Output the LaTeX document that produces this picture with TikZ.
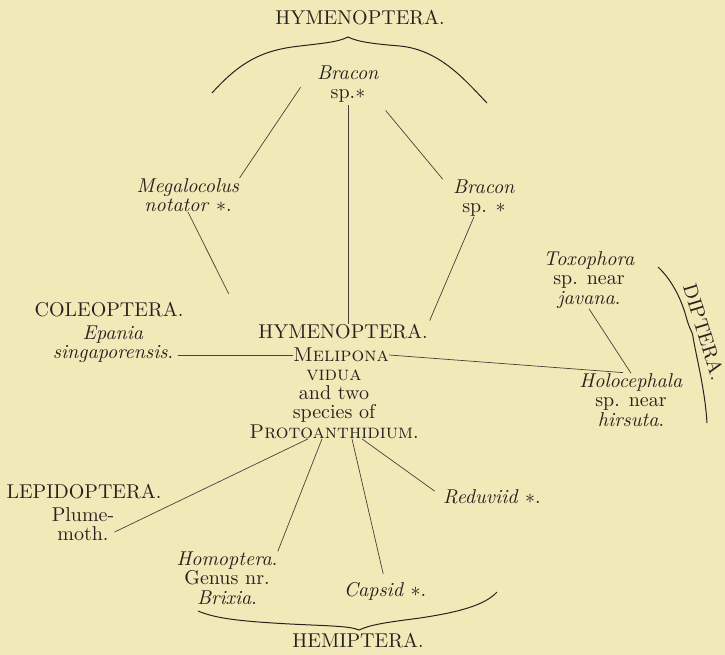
\documentclass[tikz,border=0pt]{standalone}
\usepackage{amsmath}
\usepackage{amssymb}
\definecolor{paper}{RGB}{242,233,185}
\definecolor{ink}{RGB}{38,34,30}
\definecolor{rule}{RGB}{70,65,58}

\begin{document}
\begin{tikzpicture}[x=0.5pt,y=0.5pt,line width=0.35pt,draw=rule]
\tikzstyle{every node}+=[inner sep=0pt,align=center,text=ink,font=\fontsize{10}{9.7}\selectfont]
\tikzstyle{brace}=[line width=0.5pt,draw=ink]
\fill [paper] (0,0) rectangle (725,-655);
\useasboundingbox (0,0) rectangle (725,-655);
% order labels
\node (hymt) at (360,-18) {HYMENOPTERA.};
\node (hemi) at (358,-641) {HEMIPTERA.};
\node (cole) at (109,-310) {COLEOPTERA.};
\node (lepi) at (84,-492) {LEPIDOPTERA.};
\node [rotate=-73] (dipt) at (704,-332) {DIPTERA.};
% species
\node (brac0) at (348,-84) {\textit{Bracon}\\sp.$\ast$};
\node (megal) at (188,-195) {\textit{Megalocolus}\\\textit{notator} $\ast$.};
\node (bracr) at (484,-198) {\textit{Bracon}\\sp. $\ast$};
\node (toxo) at (589,-280) {\textit{Toxophora}\\sp. near\\\textit{javana}.};
\node (holoc) at (631,-400) {\textit{Holocephala}\\sp. near\\\textit{hirsuta}.};
\node (epan) at (113,-344) {\textit{Epania}\\\textit{singaporensis}.};
\node (hymc) at (343,-332) {HYMENOPTERA.};
\node (melip) at (341,-355) {\textsc{Melipona}};
\node (prot) at (334,-404) {\textsc{vidua}\\and two\\species of\\\textsc{Protoanthidium}.};
\node (plume) at (83,-524) {Plume-\\moth.};
\node (homo) at (227,-578) {\textit{Homoptera}.\\Genus nr.\\\textit{Brixia}.};
\node (capsid) at (385,-591) {\textit{Capsid} $\ast$.};
\node (redu) at (492,-497) {\textit{Reduviid} $\ast$.};
% connectors
\draw [shorten <=2pt] ([xshift=-7pt]brac0.west) -- (megal.north east);
\draw [shorten <=1pt] (brac0.south) -- (brac0.south |- hymc.north);
\draw [shorten <=5pt] (brac0.south east) -- ([xshift=-5pt]bracr.north west);
\draw [shorten >=17pt] (megal.south) -- ([xshift=-7pt]hymc.north west);
\draw [shorten >=2pt] ([xshift=-5pt]bracr.south) -- (hymc.north east);
\draw [shorten <=2pt] (epan.east |- melip.west) -- (melip.west);
\draw [shorten >=4pt] (melip.east) -- (holoc.north);
\draw (toxo.south) -- (holoc.north);
\draw ([xshift=-13pt]prot.south) -- ([yshift=-4pt]plume.east);
\draw ([xshift=-6pt]prot.south) -- (homo.north east);
\draw [shorten >=4pt] ([xshift=9pt]prot.south) -- (capsid.north);
\draw [shorten >=5pt] ([xshift=14pt]prot.south) -- (redu.west);
% braces
\draw [brace] (212,-93) .. controls (240,-62) and (262,-50) .. (300,-46)
  .. controls (325,-43) and (338,-42) .. (348,-37)
  .. controls (358,-42) and (375,-44) .. (400,-46)
  .. controls (440,-50) and (465,-80) .. (487,-103);
\draw [brace] (198,-611) .. controls (215,-618) and (235,-621) .. (290,-624)
  .. controls (330,-626) and (350,-626) .. (359,-630)
  .. controls (372,-624) and (390,-622) .. (420,-618)
  .. controls (460,-612) and (485,-605) .. (497,-592);
\draw [brace] (658,-267) .. controls (672,-280) and (682,-300) .. (687,-320)
  .. controls (690,-330) and (693,-333) .. (693,-337)
  .. controls (697,-360) and (705,-390) .. (707,-423);
\end{tikzpicture}
\end{document}
